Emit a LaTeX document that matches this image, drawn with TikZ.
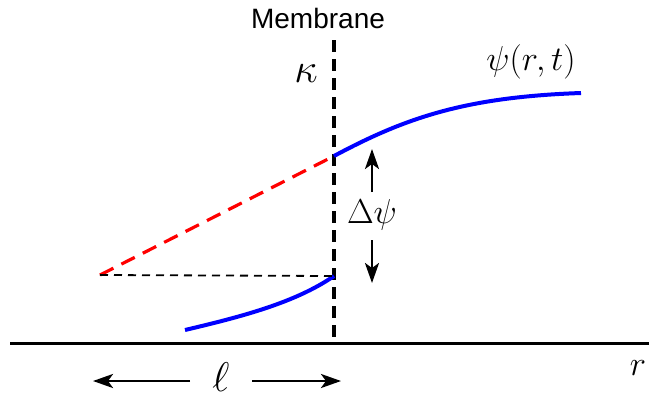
\documentclass[tikz,border=0pt]{standalone}
\usepackage{amsmath,amssymb}
\usepackage{fontspec}
\setsansfont{Liberation Sans}
\usepackage{tikz}
\usetikzlibrary{positioning,calc,arrows.meta}

\tikzset{
  membrane/.style={line width=2pt, dash pattern=on 6pt off 3.5pt},
  profile/.style={blue, line width=2pt},
  extrap/.style={red, line width=1.6pt, dash pattern=on 7.5pt off 4.5pt},
  guide/.style={line width=0.9pt, dash pattern=on 4pt off 3pt},
  jump/.style={line width=1.3pt, -{Stealth[length=10pt,width=7pt,inset=2.5pt]}},
  lab/.style={font=\fontsize{18}{22}\selectfont, inner sep=1pt},
}

\begin{document}
\begin{tikzpicture}[x=0.5pt, y=-0.5pt]
  \useasboundingbox (0,0) rectangle (649,398);

  % axis and membrane
  \coordinate (axL) at (10,343);
  \coordinate (axR) at (649,343);
  \draw[line width=1.5pt] (axL) -- (axR);
  \node[lab] (r) at (638,368) {$r$};
  \coordinate (mTop) at (334,40);
  \coordinate (mBot) at (334,343);
  \draw[membrane] (mTop) -- (mBot);
  \node[font=\sffamily\fontsize{14}{16}\selectfont] (memb) at (318,18) {Membrane};
  \node[lab, font=\fontsize{21}{24}\selectfont] (kappa) at (306,74) {$\kappa$};

  % profile outside
  \coordinate (psiIn) at (334,156);
  \coordinate (psiEnd) at (581,93);
  \draw[profile] (psiIn) .. controls (405,118) and (465,97) .. (psiEnd);
  \node[lab] (psi) at (531,62) {$\psi(r,t)$};

  % profile inside
  \coordinate (lowStart) at (185,330);
  \coordinate (lowIn) at (334,276);
  \draw[profile] (lowStart) .. controls (240,317) and (295,303) .. (lowIn);

  % extrapolation
  \coordinate (ext) at (100,275);
  \draw[extrap] (ext) -- (psiIn);
  \draw[guide] (ext) -- (lowIn);

  % jump
  \node[lab] (dpsi) at (372,215) {$\Delta\psi$};
  \draw[jump] (372,192) -- (372,149);
  \draw[jump] (372,240) -- (372,283);

  % length
  \node[lab, font=\fontsize{22}{24}\selectfont] (ell) at (221,377) {$\ell$};
  \draw[jump] (190,381) -- (93,381);
  \draw[jump] (252,381) -- (341,381);
\end{tikzpicture}
\end{document}
